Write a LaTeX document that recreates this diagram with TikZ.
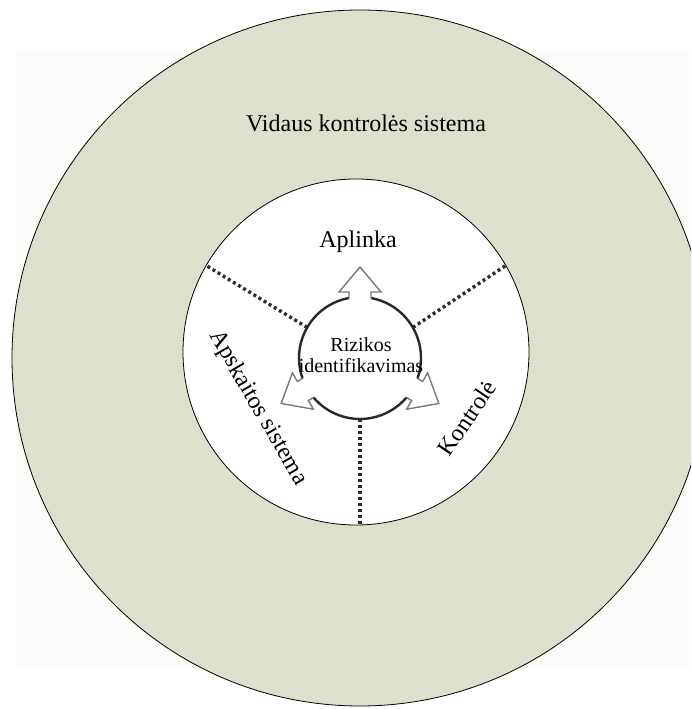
\documentclass[tikz,border=0pt]{standalone}
\usepackage{fontspec}
\setmainfont{Liberation Serif}
\definecolor{ringfill}{RGB}{221,224,204}
\definecolor{paperhaze}{RGB}{251,252,250}
\definecolor{arcdark}{RGB}{40,40,40}
\definecolor{arrowgray}{RGB}{120,120,120}
\definecolor{dotgray}{RGB}{45,45,45}
\begin{document}
\begin{tikzpicture}[x=1pt,y=1pt,
  ring/.style={circle, draw=black, line width=0.8pt, inner sep=0pt, outer sep=0pt},
  bigtext/.style={font=\fontsize{24}{28}\selectfont, inner sep=0pt},
  smalltext/.style={font=\fontsize{20}{21}\selectfont, align=center, inner sep=0pt},
  dotline/.style={draw=dotgray, line width=3.4pt, dash pattern=on 3pt off 3pt},
  cyclearc/.style={draw=arcdark, line width=2.4pt},
  cyclearrow/.style={draw=arrowgray, fill=white, line width=1.4pt, line join=miter}]
\useasboundingbox (0,0) rectangle (691,709);
\clip (0,0) rectangle (691,709);
% faint paper tone behind the rings
\fill[paperhaze] (16,40) rectangle (691,659);
% rings
\node[ring, fill=ringfill, minimum size=696pt] (outer) at (360,351) {};
\node[ring, fill=white, minimum size=346pt] (inner) at (356,357) {};
\node[circle, inner sep=0pt, outer sep=0pt, minimum size=122pt] (risk) at (360,351) {};
% dotted spokes between the three sectors
\draw[dotline] (risk.150) -- (inner.150);
\draw[dotline] (risk.30) -- (inner.30);
\draw[dotline] (risk.south) -- (risk.south |- inner.south);
% cycle: three arcs broken by outward arrows
\foreach \a in {90,210,330} {
  \draw[cyclearc] ([shift={({\a+10.4}:61)}]risk.center)
    arc[start angle=\a+10.4, end angle=\a+109.6, radius=61];
}
\foreach \a in {90,210,330} {
  \begin{scope}[shift={(risk.center)}, rotate=\a]
    \filldraw[cyclearrow] (59.5,-11) -- (66,-11) -- (66,-21) -- (91,0)
      -- (66,21) -- (66,11) -- (59.5,11);
  \end{scope}
}
% labels
\node[bigtext] (vks) at (366,586) {Vidaus kontrolės sistema};
\node[bigtext] (env) at (358,467) {Aplinka};
\node[smalltext] (risklabel) at (361,353.5) {Rizikos\\identifikavimas};
\node[bigtext, rotate=-60] (acc) at (258,301) {Apskaitos sistema};
\node[bigtext, rotate=56] (ctl) at (467,291) {Kontrolė};
\end{tikzpicture}
\end{document}
